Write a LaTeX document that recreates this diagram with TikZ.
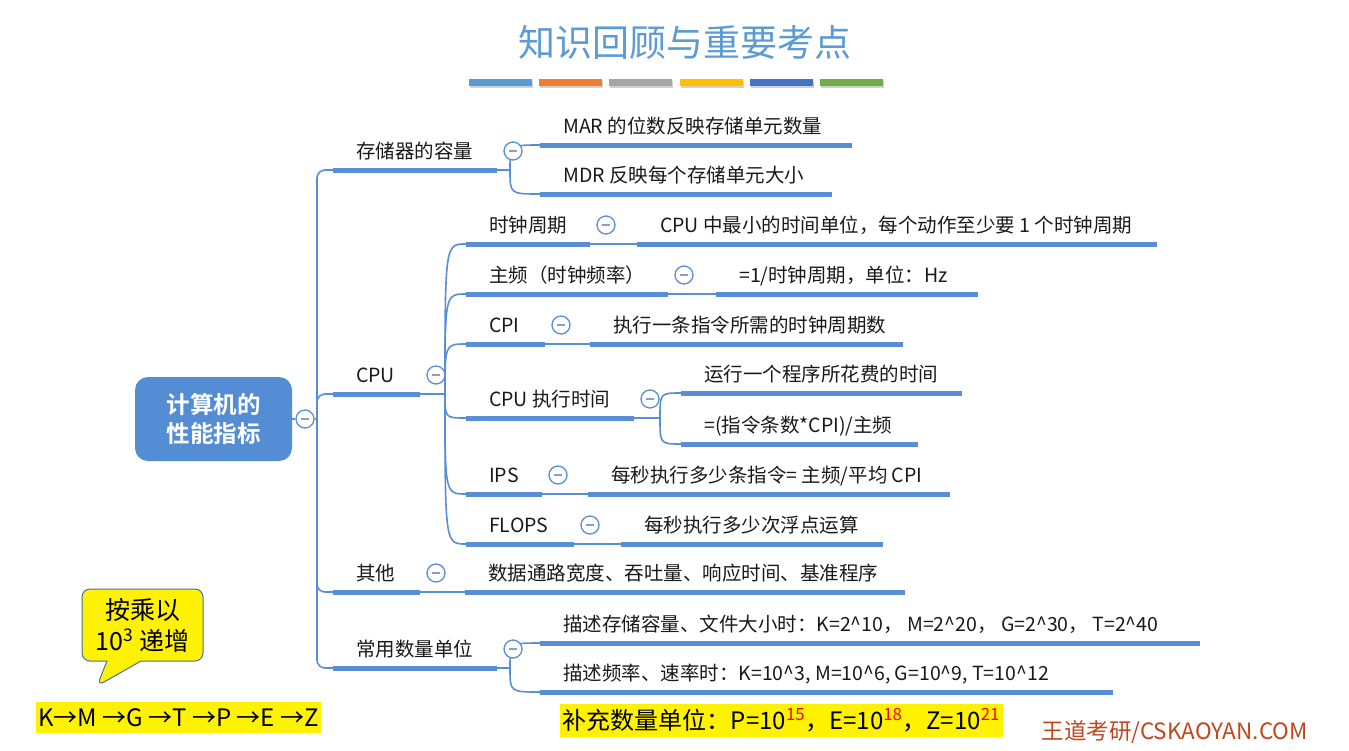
\documentclass[tikz,border=0pt]{standalone}
\usepackage{fontspec}
\setmainfont{Noto Sans CJK SC}[BoldFont=* Bold]
\usetikzlibrary{shapes.callouts}

\definecolor{mapblue}{RGB}{88,142,213}
\definecolor{rootblue}{RGB}{85,141,212}
\definecolor{titleblue}{RGB}{91,155,213}
\definecolor{minusgray}{RGB}{140,155,200}
\definecolor{wdred}{RGB}{192,70,28}
\definecolor{noteblue}{RGB}{65,113,170}
\definecolor{barA}{RGB}{91,155,213}
\definecolor{barB}{RGB}{237,125,49}
\definecolor{barC}{RGB}{165,165,165}
\definecolor{barD}{RGB}{255,192,0}
\definecolor{barE}{RGB}{68,114,196}
\definecolor{barF}{RGB}{112,173,71}

% one branch of the map: name, bar start, bar end, bar height, text
\newcommand\topic[5]{%
  \coordinate (#1s) at (#2,#4);
  \coordinate (#1e) at (#3,#4);
  \draw[bar] (#1s) -- (#1e);
  \node[lbl] (#1) at (#2+23,#4-12) {#5};
}
\newcommand\fold[1]{\node[fold] (#1f) at ([shift={(16,-19)}]#1e) {};}

\begin{document}
\begin{tikzpicture}[x=1pt,y=-1pt,
    bar/.style={mapblue, line width=5pt},
    link/.style={mapblue, line width=1.6pt},
    lbl/.style={anchor=base west, inner sep=0pt, text=black!90, font=\fontsize{19.5}{22}\selectfont},
    fold/.style={circle, draw=mapblue, line width=1.3pt, fill=white, minimum size=18pt, inner sep=0pt,
      path picture={\draw[minusgray, line width=1.5pt] ([xshift=-4pt]path picture bounding box.center) -- ([xshift=4pt]path picture bounding box.center);}},
    root/.style={rounded corners=13pt, fill=rootblue, text=white, align=center,
      minimum width=157pt, minimum height=84pt, font=\bfseries\fontsize{23.5}{29}\selectfont},
    note/.style={rectangle callout, fill=yellow, draw=noteblue, line width=1pt, rounded corners=8pt,
      minimum width=121pt, minimum height=72pt, align=center, callout pointer width=34pt,
      font=\fontsize{25}{31}\selectfont},
    hl/.style={fill=yellow, inner sep=0pt, font=\fontsize{24}{28}\selectfont}]
\useasboundingbox (0,0) rectangle (1349,750);

% title and colour bars
\node[text=titleblue, font=\fontsize{37}{42}\selectfont] (ttl) at (685,42) {知识回顾与重要考点};
\foreach \c [count=\i from 0] in {barA,barB,barC,barD,barE,barF} {
  \fill[black!18] (470+70.2*\i,81) rectangle ++(63,7);
  \fill[\c] (469+70.2*\i,79) rectangle ++(63,7);
}

% root
\node[root] (root) at (213.5,419) {计算机的\\性能指标};
\node[fold] (f0) at (305,419) {};
\coordinate (trunk) at (317,419);
\draw[link] (root) -- (f0) -- (trunk);

% first level
\topic{stor}{333}{497}{170}{存储器的容量}
\topic{cpu}{333}{420}{394}{CPU}
\topic{misc}{333}{420}{592}{其他}
\topic{unit}{333}{497}{668}{常用数量单位}
\foreach \n in {stor,cpu,misc,unit}
  \draw[link, rounded corners=8pt] (trunk) |- (\n s);

% storage
\topic{mar}{540}{852}{145}{MAR 的位数反映存储单元数量}
\topic{mdr}{540}{832}{194}{MDR 反映每个存储单元大小}
\coordinate (storj) at (510,170);
\draw[link] (store) -- (storj);
\foreach \n in {mar,mdr}
  \draw[link] (storj) .. controls (storj |- \n s) .. (\n s);
\fold{stor}

% cpu
\topic{clk}{466}{590}{244}{时钟周期}
\topic{freq}{466}{668}{294}{主频（时钟频率）}
\topic{cpi}{466}{545}{344}{CPI}
\topic{exec}{466}{634}{418}{CPU 执行时间}
\topic{ips}{466}{542}{494}{IPS}
\topic{flops}{466}{574}{544}{FLOPS}
\coordinate (cpuj) at (445,394);
\draw[link] (cpue) -- (cpuj);
\foreach \n in {clk,freq,cpi,exec,ips,flops}
  \draw[link] (cpuj) .. controls (cpuj |- \n s) .. (\n s);
\fold{cpu}

\topic{clkv}{637}{1157}{244}{CPU 中最小的时间单位，每个动作至少要 1 个时钟周期}
\topic{freqv}{716}{978}{294}{=1/时钟周期，单位：Hz}
\topic{cpiv}{590}{903}{344}{执行一条指令所需的时钟周期数}
\topic{ipsv}{588}{950}{494}{每秒执行多少条指令= 主频/平均 CPI}
\topic{flopsv}{621}{883}{544}{每秒执行多少次浮点运算}
\foreach \n in {clk,freq,cpi,ips,flops} {
  \draw[link] (\n e) -- (\n vs);
  \fold{\n}
}

\topic{execa}{681}{962}{393}{运行一个程序所花费的时间}
\topic{execb}{681}{918}{444}{=(指令条数*CPI)/主频}
\coordinate (execj) at (660,418);
\draw[link] (exece) -- (execj);
\foreach \n in {execa,execb}
  \draw[link] (execj) .. controls (execj |- \n s) .. (\n s);
\fold{exec}

% others
\topic{miscv}{465}{905}{592}{数据通路宽度、吞吐量、响应时间、基准程序}
\draw[link] (misce) -- (miscvs);
\fold{misc}

% units
\topic{kb}{540}{1200}{643}{描述存储容量、文件大小时：K=2\textasciicircum10， M=2\textasciicircum20， G=2\textasciicircum30， T=2\textasciicircum40}
\topic{khz}{540}{1113}{692}{描述频率、速率时：K=10\textasciicircum3, M=10\textasciicircum6, G=10\textasciicircum9, T=10\textasciicircum12}
\coordinate (unitj) at (510,668);
\draw[link] (unite) -- (unitj);
\foreach \n in {kb,khz}
  \draw[link] (unitj) .. controls (unitj |- \n s) .. (\n s);
\fold{unit}

% notes at the bottom
\node[note, callout absolute pointer={(97,686)}] (note) at (142.5,625) {按乘以\\10\textsuperscript{3} 递增};
\node[hl, minimum width=285pt, minimum height=31pt] (seq) at (178.5,717.5) {K→M →G →T →P →E →Z};
\node[hl, minimum width=443pt, minimum height=33pt] (more) at (781.5,720.5)
  {补充数量单位：P=10\textsuperscript{\color{red}15}，E=10\textsuperscript{\color{red}18}，Z=10\textsuperscript{\color{red}21}};
\node[anchor=west, text=wdred, font=\fontsize{22.5}{26}\selectfont] (src) at (1038,732) {王道考研/CSKAOYAN.COM};
\end{tikzpicture}
\end{document}
